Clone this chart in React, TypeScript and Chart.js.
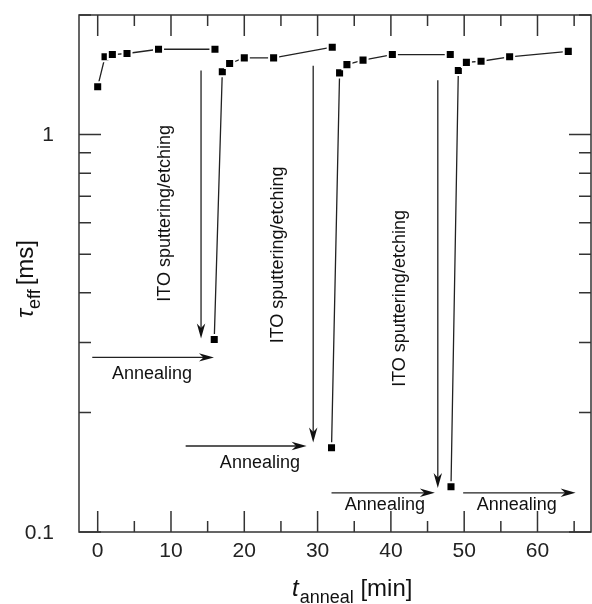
import React, { useEffect, useRef } from 'react';
import { Chart, registerables } from 'chart.js';

Chart.register(...registerables);

const FONT = '"Liberation Sans", Arial, Helvetica, sans-serif';

// ---- data (t_anneal in min, tau_eff in ms) ----
const seg1Time = [0, 1, 2, 4, 8.3, 16];
const seg1Tau = [1.32, 1.57, 1.59, 1.6, 1.64, 1.64];
const seg2Time = [15.9, 17, 18, 20, 24, 32];
const seg2Tau = [0.305, 1.44, 1.51, 1.56, 1.56, 1.66];
const seg3Time = [31.9, 33, 34, 36.2, 40.2, 48.1];
const seg3Tau = [0.163, 1.43, 1.5, 1.54, 1.59, 1.59];
const seg4Time = [48.2, 49.2, 50.3, 52.3, 56.2, 64.2];
const seg4Tau = [0.13, 1.45, 1.52, 1.53, 1.57, 1.62];

// ---- axes ----
const xMajorTicks = [0, 10, 20, 30, 40, 50, 60];
const xMajorLabels = ['0', '10', '20', '30', '40', '50', '60'];
const xMinorTicks = [5, 15, 25, 35, 45, 55, 65];
const yMajorTicks = [0.1, 1];
const yMajorLabels = ['0.1', '1'];
const yMinorTicks = [0.2, 0.3, 0.4, 0.5, 0.6, 0.7, 0.8, 0.9, 2];

// ---- annotations (data coordinates) ----
const sputterText = 'ITO sputtering/etching';
const sputterArrowX = [14.1, 29.4, 46.4];
const sputterArrowFrom = [1.45, 1.49, 1.37];
const sputterArrowTo = [0.307, 0.168, 0.129];
const sputterLabelX = [9.25, 24.6, 41.2];
const sputterLabelY = [0.634, 0.498, 0.387];

const annealText = 'Annealing';
const annealArrowFrom = [-0.74, 12.0, 31.9, 49.86];
const annealArrowTo = [15.86, 28.5, 46.0, 65.2];
const annealArrowY = [0.275, 0.1646, 0.1255, 0.1255];
const annealLabelX = [7.4, 22.13, 39.18, 57.18];
const annealLabelY = [0.2433, 0.1453, 0.1135, 0.1135];

function buildPoints() {
  const segs: [number[], number[]][] = [
    [seg1Time, seg1Tau],
    [seg2Time, seg2Tau],
    [seg3Time, seg3Tau],
    [seg4Time, seg4Tau],
  ];
  const pts: { x: number; y: number | null }[] = [];
  segs.forEach(([t, v], i) => {
    if (i > 0) pts.push({ x: t[0], y: null });
    t.forEach((tt, j) => pts.push({ x: tt, y: v[j] }));
  });
  return pts;
}

function arrowHead(ctx: CanvasRenderingContext2D, tx: number, ty: number, dx: number, dy: number) {
  const L = 15, W = 4.2, N = 10.5;
  const px = -dy, py = dx;
  ctx.beginPath();
  ctx.moveTo(tx, ty);
  ctx.lineTo(tx - dx * L + px * W, ty - dy * L + py * W);
  ctx.lineTo(tx - dx * N, ty - dy * N);
  ctx.lineTo(tx - dx * L - px * W, ty - dy * L - py * W);
  ctx.closePath();
  ctx.fill();
}

const decorPlugin = {
  id: 'decor',
  afterDatasetsDraw(chart: any) {
    const { ctx, chartArea: a, scales } = chart;
    const xs = scales.x, ys = scales.y;
    ctx.save();
    ctx.strokeStyle = '#333';
    ctx.fillStyle = '#111';
    ctx.lineWidth = 1.5;
    // frame
    ctx.strokeRect(a.left, a.top, a.right - a.left, a.bottom - a.top);
    ctx.beginPath();
    const vt = (v: number, len: number) => {
      const p = xs.getPixelForValue(v);
      ctx.moveTo(p, a.bottom); ctx.lineTo(p, a.bottom - len);
      ctx.moveTo(p, a.top); ctx.lineTo(p, a.top + len);
    };
    const ht = (v: number, len: number) => {
      const p = ys.getPixelForValue(v);
      ctx.moveTo(a.left, p); ctx.lineTo(a.left + len, p);
      ctx.moveTo(a.right, p); ctx.lineTo(a.right - len, p);
    };
    xMajorTicks.forEach((v) => vt(v, 21));
    xMinorTicks.forEach((v) => vt(v, 11));
    yMajorTicks.forEach((v) => ht(v, 22));
    yMinorTicks.forEach((v) => ht(v, 12));
    ctx.stroke();

    // tick labels
    ctx.fillStyle = '#222';
    ctx.font = `21px ${FONT}`;
    ctx.textAlign = 'center';
    ctx.textBaseline = 'middle';
    xMajorTicks.forEach((v, i) => {
      ctx.fillText(xMajorLabels[i], xs.getPixelForValue(v), a.bottom + 19);
    });
    ctx.textAlign = 'right';
    yMajorTicks.forEach((v, i) => {
      ctx.fillText(yMajorLabels[i], a.left - 25, ys.getPixelForValue(v) + 1);
    });

    // sputtering arrows (vertical)
    ctx.fillStyle = '#111';
    ctx.lineWidth = 1.3;
    ctx.strokeStyle = '#222';
    sputterArrowX.forEach((xv, i) => {
      const px = xs.getPixelForValue(xv);
      const y0 = ys.getPixelForValue(sputterArrowFrom[i]);
      const y1 = ys.getPixelForValue(sputterArrowTo[i]);
      ctx.beginPath();
      ctx.moveTo(px, y0);
      ctx.lineTo(px, y1 - 10);
      ctx.stroke();
      arrowHead(ctx, px, y1, 0, 1);
    });
    // annealing arrows (horizontal)
    annealArrowY.forEach((yv, i) => {
      const py = ys.getPixelForValue(yv);
      const x0 = xs.getPixelForValue(annealArrowFrom[i]);
      const x1 = xs.getPixelForValue(annealArrowTo[i]);
      ctx.beginPath();
      ctx.moveTo(x0, py);
      ctx.lineTo(x1 - 10, py);
      ctx.stroke();
      arrowHead(ctx, x1, py, 1, 0);
    });

    // labels
    ctx.font = `18px ${FONT}`;
    ctx.textAlign = 'center';
    ctx.textBaseline = 'middle';
    sputterLabelX.forEach((xv, i) => {
      ctx.save();
      ctx.translate(xs.getPixelForValue(xv), ys.getPixelForValue(sputterLabelY[i]));
      ctx.rotate(-Math.PI / 2);
      ctx.fillText(sputterText, 0, 0);
      ctx.restore();
    });
    ctx.textBaseline = 'alphabetic';
    annealLabelX.forEach((xv, i) => {
      ctx.fillText(annealText, xs.getPixelForValue(xv), ys.getPixelForValue(annealLabelY[i]));
    });

    // x title: t_anneal [min]
    ctx.textAlign = 'left';
    let cx = 292;
    const by = 596;
    ctx.font = `italic 24px ${FONT}`;
    ctx.fillText('t', cx, by);
    cx += ctx.measureText('t').width + 1;
    ctx.font = `18px ${FONT}`;
    ctx.fillText('anneal', cx, by + 7);
    cx += ctx.measureText('anneal').width;
    ctx.font = `24px ${FONT}`;
    ctx.fillText(' [min]', cx, by);

    // y title: tau_eff [ms]
    ctx.save();
    ctx.translate(33, 318);
    ctx.rotate(-Math.PI / 2);
    let cy = 0;
    ctx.font = `italic 24px ${FONT}`;
    ctx.fillText('\u03c4', cy, 0);
    cy += ctx.measureText('\u03c4').width;
    ctx.font = `18px ${FONT}`;
    ctx.fillText('eff', cy, 7);
    cy += ctx.measureText('eff').width + 4;
    ctx.font = `24px ${FONT}`;
    ctx.fillText('[ms]', cy, 0);
    ctx.restore();

    ctx.restore();
  },
};

export default function App() {
  const ref = useRef<HTMLCanvasElement | null>(null);
  useEffect(() => {
    document.body.style.margin = '0';
    if (!ref.current) return;
    const chart = new Chart(ref.current, {
      type: 'line',
      data: {
        datasets: [
          {
            data: buildPoints() as any,
            borderColor: '#222',
            borderWidth: 1.3,
            pointStyle: 'rect',
            pointRadius: 6.4,
            pointHoverRadius: 6.4,
            pointBackgroundColor: '#000',
            pointBorderColor: '#fff',
            pointBorderWidth: 2,
            spanGaps: false,
            tension: 0,
          },
        ],
      },
      options: {
        responsive: false,
        animation: false,
        events: [],
        layout: { padding: { left: 0, right: 1, top: 15, bottom: 0 }, autoPadding: false },
        plugins: { legend: { display: false }, tooltip: { enabled: false }, title: { display: false } },
        scales: {
          x: {
            type: 'linear',
            min: -2.55,
            max: 67.3,
            grid: { display: false, drawTicks: false },
            border: { display: false },
            ticks: { display: false },
            afterFit: (s: any) => {
              s.height = 72;
            },
          },
          y: {
            type: 'logarithmic',
            min: 0.1,
            max: 2,
            grid: { display: false, drawTicks: false },
            border: { display: false },
            ticks: { display: false },
            afterFit: (s: any) => {
              s.width = 79;
            },
          },
        },
      },
      plugins: [decorPlugin],
    });
    return () => chart.destroy();
  }, []);
  return <canvas ref={ref} width={592} height={604} style={{ display: 'block' }} />;
}
